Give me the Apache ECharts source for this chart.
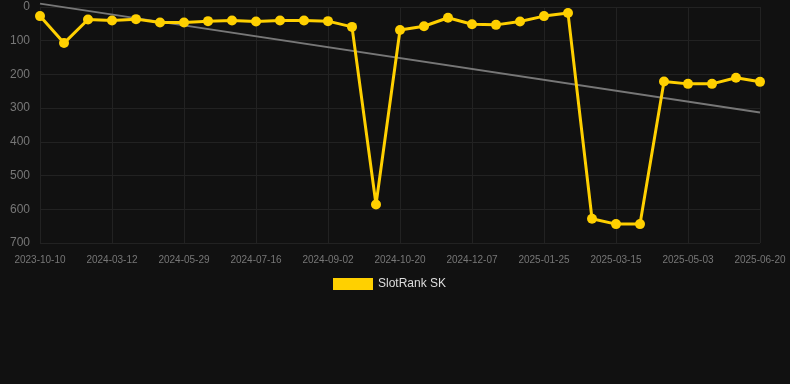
<!DOCTYPE html>
<html lang="en">
	<head>
		<meta charset="utf-8" />
		<title>SlotRank SK</title>
		<style>
			html, body { margin: 0; padding: 0; background: #111111; }
			#chart { width: 790px; height: 384px; }
		</style>
	</head>
	<body>
		<div id="chart"></div>

		<script src="https://cdn.jsdelivr.net/npm/echarts@6/dist/echarts.min.js"></script>
		<script type="text/javascript">
			const dates = [
				'2023-10-10', '2024-02-09', '2024-02-25', '2024-03-12', '2024-04-07', '2024-05-03',
				'2024-05-29', '2024-06-14', '2024-06-30', '2024-07-16', '2024-08-01', '2024-08-17',
				'2024-09-02', '2024-09-18', '2024-10-04', '2024-10-20', '2024-11-05', '2024-11-21',
				'2024-12-07', '2024-12-23', '2025-01-08', '2025-01-25', '2025-02-10', '2025-02-26',
				'2025-03-15', '2025-03-31', '2025-04-16', '2025-05-03', '2025-05-19', '2025-06-04',
				'2025-06-20',
			];
			const ranks = [
				27, 107, 37, 40, 36, 46, 46, 42, 40, 43, 40, 40, 42, 59, 586, 68,
				57, 32, 51, 53, 43, 27, 18, 628, 644, 644, 221, 228, 228, 210, 222,
			];
			// regression line end points
			const trendStart = -10;
			const trendEnd = 313;

			const chart = echarts.init(document.getElementById('chart'));
			chart.setOption({
				backgroundColor: '#111111',
				animation: false,
				grid: { left: 40, right: 30, top: 7, bottom: 141 },
				legend: {
					data: ['SlotRank SK'],
					top: 273,
					left: 328,
					icon: 'rect',
					itemWidth: 40,
					itemHeight: 12,
					textStyle: { color: '#dddddd', fontSize: 12 },
				},
				xAxis: {
					type: 'category',
					data: dates,
					boundaryGap: false,
					axisLine: { show: false },
					axisTick: { show: false },
					axisLabel: { interval: 2, color: '#777777', fontSize: 10, margin: 12 },
					splitLine: { show: true, interval: 2, lineStyle: { color: '#222222' } },
				},
				yAxis: {
					type: 'value',
					inverse: true,
					min: 0,
					max: 700,
					interval: 100,
					axisLine: { show: false },
					axisTick: { show: false },
					axisLabel: { color: '#777777', fontSize: 12, margin: 10 },
					splitLine: { lineStyle: { color: '#222222' } },
				},
				series: [
					{
						name: 'SlotRank SK',
						type: 'line',
						data: ranks,
						color: '#ffd000',
						symbol: 'circle',
						symbolSize: 10,
						lineStyle: { width: 3, color: '#ffd000' },
						itemStyle: { color: '#ffd000' },
						z: 3,
					},
					{
						name: 'trend',
						type: 'line',
						data: [[dates[0], trendStart], [dates[dates.length - 1], trendEnd]],
						symbol: 'none',
						clip: false,
						lineStyle: { width: 2, color: '#777777' },
						z: 2,
					},
				],
			});
		</script>
	</body>
</html>
